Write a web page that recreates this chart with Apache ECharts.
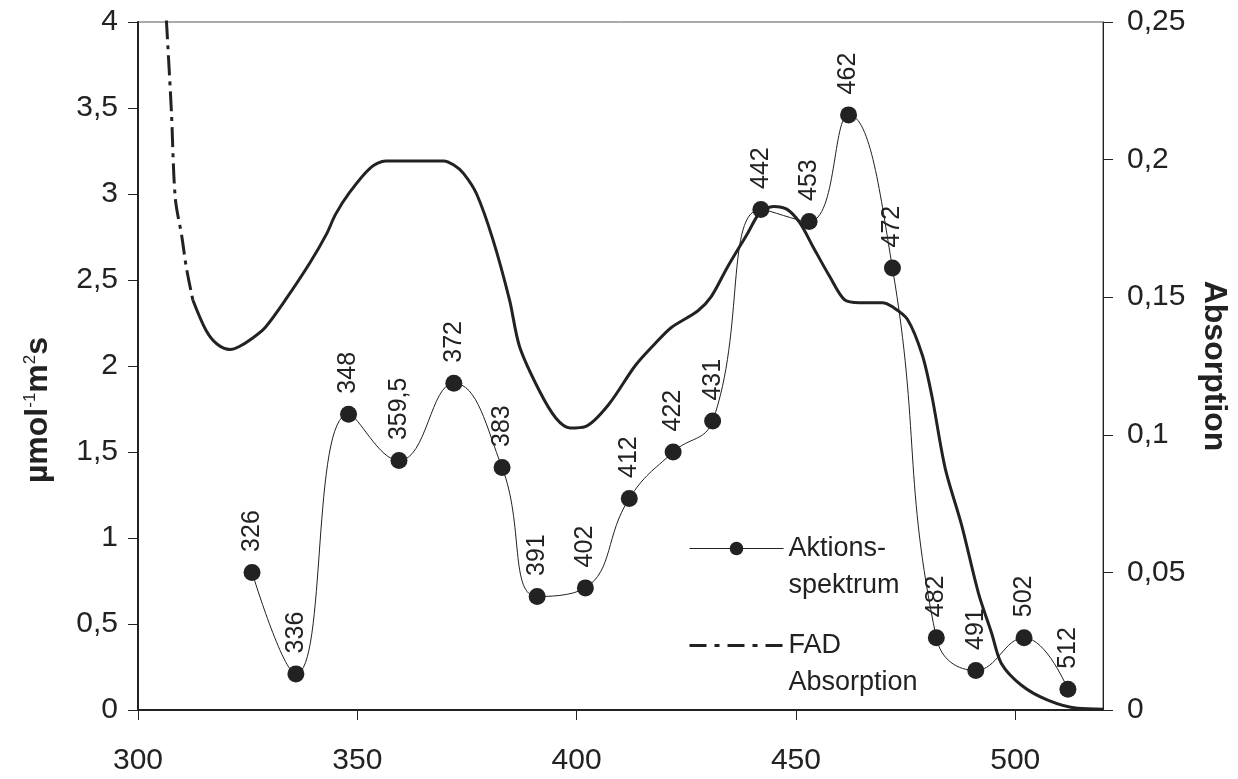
<!DOCTYPE html>
<html><head><meta charset="utf-8">
<script src="https://cdn.jsdelivr.net/npm/echarts@6/dist/echarts.min.js"></script>
<style>html,body{margin:0;padding:0;background:#fff}#c{width:1238px;height:779px}</style>
</head><body><div id="c"></div>
<script>
const actionWavelengths = [326,336,348,359.5,372,383,391,402,412,422,431,442,453,462,472,482,491,502,512];
const actionValues = [0.80,0.21,1.72,1.45,1.90,1.41,0.66,0.71,1.23,1.50,1.68,2.91,2.84,3.46,2.57,0.42,0.23,0.42,0.12];
const actionLabels = ['326','336','348','359,5','372','383','391','402','412','422','431','442','453','462','472','482','491','502','512'];

const fadWavelengths = [306,306.5,307.6,308.5,310,311,312.5,315.5,318,321,323,326,329,333.6,339.2,343,345,348.2,353,356.5,360,366,369.7,372,374.2,377.2,380.9,384.7,387,391.5,395.3,398.5,402,407.3,413.3,417.8,421.6,427.6,430.6,434.4,438.9,441.9,444.9,447.9,450.9,454,457.7,461.1,464.5,469.7,472,475.4,478.8,481,484,487.8,491.6,494.6,496.8,501.4,507.4,514.2,520];
const fadValues = [0.264,0.250,0.218,0.186,0.172,0.161,0.149,0.138,0.133,0.131,0.132,0.135,0.139,0.149,0.1625,0.173,0.180,0.188,0.197,0.1995,0.1995,0.1995,0.1995,0.198,0.195,0.1875,0.171,0.149,0.132,0.116,0.106,0.1025,0.103,0.111,0.125,0.133,0.139,0.145,0.150,0.161,0.173,0.181,0.183,0.182,0.177,0.168,0.1575,0.149,0.148,0.148,0.1465,0.142,0.129,0.114,0.088,0.067,0.0425,0.028,0.017,0.009,0.0036,0.0006,0.0003];

const xTicks = [300,350,400,450,500];
const leftTicks = [0,0.5,1,1.5,2,2.5,3,3.5,4];
const rightTicks = [0,0.05,0.1,0.15,0.2,0.25];

const FONT = "'Liberation Sans', Arial, sans-serif";
const INK = '#222';
const comma = v => String(Math.round(v*1000)/1000).replace('.', ',');

const actionData = actionWavelengths.map((w,i)=>[w, actionValues[i]]);
const fadData = fadWavelengths.map((w,i)=>[w, fadValues[i]]);
const splitIdx = fadWavelengths.indexOf(312.5);
const fadDashed = fadData.slice(0, splitIdx+1);
const fadSolid = fadData.slice(splitIdx);

const chart = echarts.init(document.getElementById('c'), null, {renderer:'canvas'});
chart.setOption({
  backgroundColor:'#fff',
  animation:false,
  grid:{left:138, right:125, top:22, bottom:69, show:true, borderColor:'#555', borderWidth:1, containLabel:false},
  legend:{
    orient:'vertical', left:683, top:488, itemWidth:94, itemHeight:17, itemGap:-14,
    textStyle:{fontFamily:FONT, fontSize:27, lineHeight:37, color:INK},
    formatter: name => '\n' + name,
    data:[
      {name:'Aktions-\nspektrum', lineStyle:{width:1, color:INK}},
      {name:'FAD\nAbsorption', lineStyle:{type:[17,8,5,8], width:3, color:INK}, itemStyle:{color:'rgba(0,0,0,0)', borderWidth:0}}
    ]
  },
  xAxis:{
    type:'value', min:300, max:520,
    axisLine:{lineStyle:{color:INK, width:2}},
    axisTick:{inside:false, length:10, lineStyle:{color:INK, width:1}, customValues:xTicks},
    axisLabel:{fontFamily:FONT, fontSize:30, color:INK, margin:36, customValues:xTicks},
    splitLine:{show:false}
  },
  yAxis:[
    {
      type:'value', min:0, max:4, interval:0.5, position:'left',
      axisLine:{show:true, lineStyle:{color:INK, width:2}},
      axisTick:{show:true, inside:false, length:10, lineStyle:{color:INK, width:1}},
      axisLabel:{fontFamily:FONT, fontSize:30, color:INK, margin:20, formatter:comma},
      splitLine:{show:false},
      name:'{b|µmol}{s|-1}{b|m}{s|2}{b|s}', nameLocation:'middle', nameRotate:90, nameGap:84,
      nameTextStyle:{padding:[0,88,0,0],
        rich:{b:{fontFamily:FONT, fontSize:32, fontWeight:'bold', color:INK},
              s:{fontFamily:FONT, fontSize:17, fontWeight:'normal', color:INK, verticalAlign:'top', padding:[0,0,14,0]}}}
    },
    {
      type:'value', min:0, max:0.25, interval:0.05, position:'right',
      axisLine:{show:true, lineStyle:{color:INK, width:1}},
      axisTick:{show:true, inside:false, length:10, lineStyle:{color:INK, width:1}},
      axisLabel:{fontFamily:FONT, fontSize:30, color:INK, margin:24, formatter:comma},
      splitLine:{show:false},
      name:'Absorption', nameLocation:'middle', nameRotate:-90, nameGap:95,
      nameTextStyle:{fontFamily:FONT, fontSize:32, fontWeight:'bold', color:INK}
    }
  ],
  series:[
    {
      name:'Aktions-\nspektrum', type:'line', yAxisIndex:0, data:actionData,
      smooth:0.45, symbol:'circle', symbolSize:17,
      lineStyle:{color:INK, width:1}, itemStyle:{color:INK},
      label:{show:true, position:'top', distance:12, rotate:90, align:'left', verticalAlign:'middle',
        fontFamily:FONT, fontSize:25, color:INK,
        formatter:p=>actionLabels[p.dataIndex]},
      z:3
    },
    {
      name:'FAD\nAbsorption', type:'line', yAxisIndex:1, data:fadDashed,
      smooth:0.3, symbol:'none', clip:true,
      lineStyle:{color:INK, width:3, type:[20,6,4,6]}, itemStyle:{color:INK}, z:2
    },
    {
      name:'FAD\nAbsorption', type:'line', yAxisIndex:1, data:fadSolid,
      smooth:0.3, symbol:'none', clip:true,
      lineStyle:{color:INK, width:3}, itemStyle:{color:INK}, z:2
    }
  ]
});
</script></body></html>
